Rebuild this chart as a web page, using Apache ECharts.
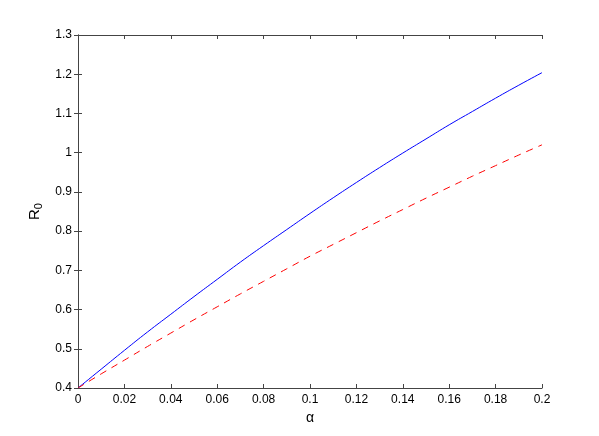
<!DOCTYPE html>
<html>
<head>
<meta charset="utf-8">
<script src="https://cdn.jsdelivr.net/npm/echarts@6/dist/echarts.min.js"></script>
<style>
  html, body { margin: 0; padding: 0; background: #fff; }
  #chart { width: 599px; height: 436px; }
</style>
</head>
<body>
<div id="chart"></div>
<script>
  // alpha values (x)
  var alpha = [0, 0.01, 0.02, 0.03, 0.04, 0.05, 0.06, 0.07, 0.08, 0.09, 0.10,
               0.11, 0.12, 0.13, 0.14, 0.15, 0.16, 0.17, 0.18, 0.19, 0.20];
  // solid blue curve
  var r0Solid = [0.400, 0.448, 0.496, 0.543, 0.588, 0.633, 0.677, 0.721, 0.763, 0.804, 0.845,
                 0.885, 0.924, 0.962, 0.999, 1.035, 1.071, 1.105, 1.139, 1.172, 1.204];
  // dashed red curve
  var r0Dashed = [0.400, 0.436, 0.471, 0.506, 0.540, 0.574, 0.607, 0.640, 0.672, 0.704, 0.736,
                  0.766, 0.796, 0.826, 0.855, 0.884, 0.912, 0.940, 0.967, 0.994, 1.020];

  function pairs(xs, ys) {
    return xs.map(function (x, i) { return [x, ys[i]]; });
  }

  var axisColor = '#444';
  var font = 'Liberation Sans, Arial, sans-serif';

  var chart = echarts.init(document.getElementById('chart'));
  chart.setOption({
    animation: false,
    grid: { left: 78, right: 57, top: 35, bottom: 48 },
    xAxis: [{
      type: 'value', min: 0, max: 0.2, interval: 0.02,
      name: 'α', nameLocation: 'middle', nameGap: 18,
      nameTextStyle: { color: '#000', fontSize: 14, fontFamily: font },
      axisLine: { lineStyle: { color: axisColor } },
      axisTick: { inside: true, length: 4, lineStyle: { color: axisColor } },
      axisLabel: { color: '#000', fontSize: 12, fontFamily: font, margin: 6 },
      splitLine: { show: false }
    }, {
      type: 'value', position: 'top', min: 0, max: 0.2, interval: 0.02,
      axisLine: { lineStyle: { color: axisColor } },
      axisTick: { inside: true, length: 4, lineStyle: { color: axisColor } },
      axisLabel: { show: false },
      splitLine: { show: false }
    }],
    yAxis: [{
      type: 'value', min: 0.4, max: 1.3, interval: 0.1,
      name: '{r|R}{s|0}', nameLocation: 'middle', nameGap: 30, nameRotate: 90,
      nameTextStyle: {
        color: '#000', fontFamily: font,
        rich: {
          r: { fontSize: 15, fontFamily: font, color: '#000' },
          s: { fontSize: 11, fontFamily: font, color: '#000', padding: [9, 0, 0, 0] }
        }
      },
      axisLine: { lineStyle: { color: axisColor } },
      axisTick: { inside: true, length: 4, lineStyle: { color: axisColor } },
      axisLabel: {
        color: '#000', fontSize: 12, fontFamily: font, margin: 6,
        formatter: function (v) { return String(Math.round(v * 10) / 10); }
      },
      splitLine: { show: false }
    }, {
      type: 'value', position: 'right', min: 0.4, max: 1.3, interval: 0.1,
      axisLine: { lineStyle: { color: axisColor } },
      axisTick: { inside: true, length: 4, lineStyle: { color: axisColor } },
      axisLabel: { show: false },
      splitLine: { show: false }
    }],
    series: [{
      type: 'line', smooth: true, symbol: 'none',
      data: pairs(alpha, r0Solid),
      lineStyle: { color: '#0000ff', width: 1 }
    }, {
      type: 'line', smooth: true, symbol: 'none',
      data: pairs(alpha, r0Dashed),
      lineStyle: { color: '#ff0000', width: 1, type: [7, 6] }
    }]
  });
</script>
</body>
</html>
